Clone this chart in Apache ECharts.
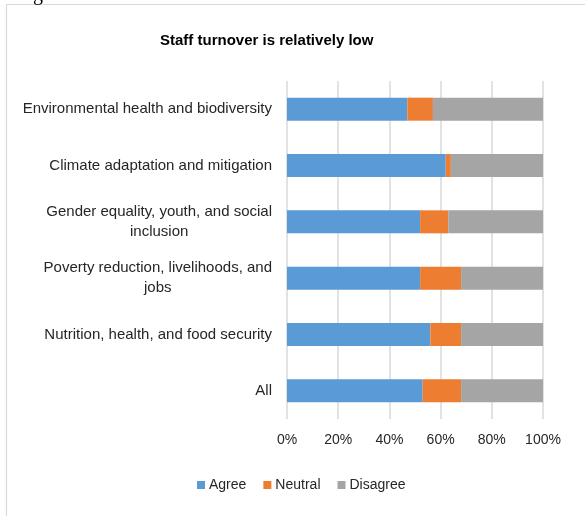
<!DOCTYPE html>
<html>
<head>
<meta charset="utf-8">
<script src="https://cdn.jsdelivr.net/npm/echarts@6/dist/echarts.min.js"></script>
<style>
  html, body { margin: 0; padding: 0; background: #fff; }
  #chart { width: 585px; height: 516px; }
</style>
</head>
<body>
<div id="chart"></div>
<script>
// Survey results by thematic area (share of respondents, %)
const categories = [
  'Environmental health and biodiversity',
  'Climate adaptation and mitigation',
  'Gender equality, youth, and social\ninclusion',
  'Poverty reduction, livelihoods, and\njobs',
  'Nutrition, health, and food security',
  'All'
];
const agree    = [47, 62, 52, 52, 56, 53];
const neutral  = [10,  2, 11, 16, 12, 15];
const disagree = [43, 36, 37, 32, 32, 32];
const seriesNames = ['Agree', 'Neutral', 'Disagree'];
const tickValues = [0, 20, 40, 60, 80, 100];

const FONT = '"Liberation Sans", Arial, sans-serif';
const TEXT = '#262626';
const colors = ['#5B9BD5', '#ED7D31', '#A5A5A5'];

const chart = echarts.init(document.getElementById('chart'), null, { renderer: 'canvas' });

function barSeries(name, data, color) {
  return {
    name: name,
    type: 'bar',
    stack: 'total',
    data: data,
    barWidth: 23,
    itemStyle: { color: color },
    emphasis: { disabled: true }
  };
}

chart.setOption({
  animation: false,
  backgroundColor: '#fff',
  color: colors,
  title: {
    text: 'Staff turnover is relatively low',
    left: 155,
    top: 28,
    textStyle: { fontFamily: FONT, fontSize: 15, fontWeight: 'bold', color: '#000' }
  },
  legend: {
    data: seriesNames,
    bottom: 19,
    left: 192,
    itemWidth: 8,
    itemHeight: 8,
    itemGap: 17,
    icon: 'rect',
    textStyle: { fontFamily: FONT, fontSize: 14, color: TEXT, padding: [0, 0, 0, -1] }
  },
  grid: { left: 287, right: 42, top: 81, bottom: 97, containLabel: false },
  xAxis: {
    type: 'value',
    min: tickValues[0],
    max: tickValues[tickValues.length - 1],
    interval: 20,
    axisLine: { show: false },
    axisTick: { show: false },
    splitLine: { show: true, lineStyle: { color: '#D9D9D9', width: 1.5 } },
    axisLabel: {
      margin: 14,
      fontFamily: FONT,
      fontSize: 14,
      color: TEXT,
      formatter: v => v + '%'
    }
  },
  yAxis: {
    type: 'category',
    data: categories,
    inverse: true,
    axisLine: { show: false },
    axisTick: { show: false },
    axisLabel: {
      margin: 15,
      fontFamily: FONT,
      fontSize: 15,
      color: TEXT,
      lineHeight: 20,
      formatter: v => v.split('\n').map(s => '{c|' + s + '}').join('\n'),
      rich: {
        c: { align: 'center', fontFamily: FONT, fontSize: 15, color: TEXT, lineHeight: 20 }
      }
    }
  },
  series: [
    barSeries(seriesNames[0], agree, colors[0]),
    barSeries(seriesNames[1], neutral, colors[1]),
    barSeries(seriesNames[2], disagree, colors[2])
  ],
  graphic: [
    {
      type: 'rect',
      silent: true,
      shape: { x: 6.5, y: 4.5, width: 620, height: 560 },
      style: { fill: null, stroke: '#D9D9D9', lineWidth: 1.2 }
    },
    {
      type: 'text',
      silent: true,
      left: 33,
      top: -15,
      style: { text: 'g', font: '20px "Liberation Serif", serif', fill: '#000' }
    }
  ]
});
</script>
</body>
</html>
